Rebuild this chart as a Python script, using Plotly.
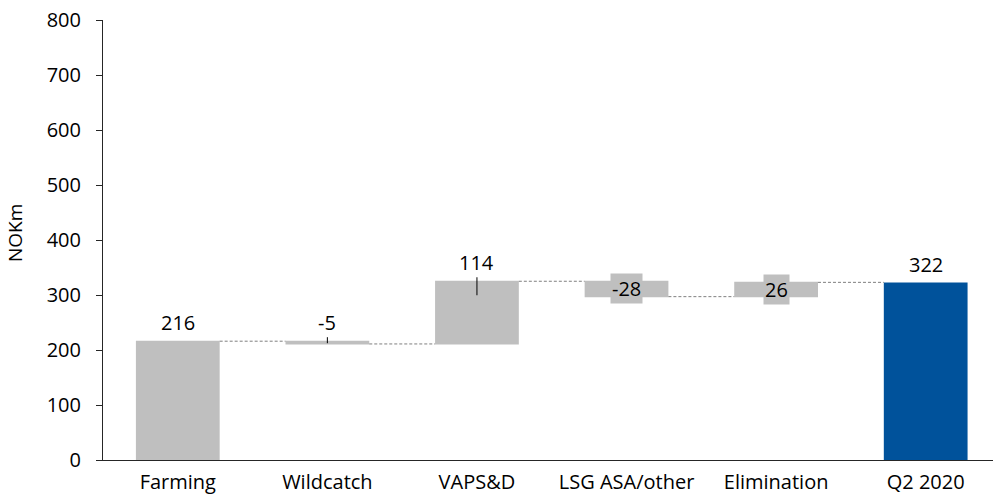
import plotly.graph_objects as go
import numpy as np

categories = ["Farming", "Wildcatch", "VAPS&D", "LSG ASA/other", "Elimination", "Q2 2020"]
values = [216, -5, 114, -28, 26, 322]
measures = ["relative", "relative", "relative", "relative", "relative", "absolute"]
label_texts = ["216", "-5", "114", "-28", "26", "322"]
y_ticks = [0, 100, 200, 300, 400, 500, 600, 700, 800]
y_title = "NOKm"

GRAY = "#BFBFBF"
BLUE = "#00529B"
FONT = "Open Sans"
TXT = "#000000"
FS = 20

# bar extents computed from data
ends = []
starts = []
run = 0.0
for v, m in zip(values, measures):
    if m == "absolute":
        starts.append(0.0)
        run = v
    else:
        starts.append(run)
        run += v
    ends.append(run)
starts = np.array(starts)
ends = np.array(ends)
tops = np.maximum(starts, ends)
mids = (starts + ends) / 2

fig = go.Figure()
fig.add_trace(go.Waterfall(
    x=categories,
    y=values,
    measure=measures,
    width=0.56,
    increasing=dict(marker=dict(color=GRAY, line=dict(width=0))),
    decreasing=dict(marker=dict(color=GRAY, line=dict(width=0))),
    totals=dict(marker=dict(color=BLUE, line=dict(width=0))),
    connector=dict(mode="between", line=dict(color="#7F7F7F", width=1, dash="3px,2px")),
    textinfo="none",
    hoverinfo="skip",
    showlegend=False,
))

annotations = []
shapes = []
for i, (c, t) in enumerate(zip(categories, label_texts)):
    if i in (3, 4):
        annotations.append(dict(x=c, y=mids[i], text=t, showarrow=False,
                                xref="x", yref="y", yanchor="middle",
                                font=dict(family=FONT, size=FS, color=TXT),
                                bgcolor=GRAY, borderpad=1))
    else:
        annotations.append(dict(x=c, y=tops[i], text=t, showarrow=False,
                                xref="x", yref="y", yanchor="bottom", yshift=3,
                                font=dict(family=FONT, size=FS, color=TXT)))
# y-axis title
annotations.append(dict(x=0, y=0.5, xref="paper", yref="paper", text=y_title,
                        textangle=-90, showarrow=False, xanchor="center", yanchor="middle",
                        xshift=-88, yshift=7,
                        font=dict(family=FONT, size=FS - 1, color=TXT)))
# leader lines for small labels
shapes.append(dict(type="line", xref="x", yref="y", x0=1, x1=1,
                   ysizemode="pixel", yanchor=tops[1], y0=-2, y1=4,
                   line=dict(color="#000000", width=1)))
shapes.append(dict(type="line", xref="x", yref="y", x0=2, x1=2,
                   ysizemode="pixel", yanchor=tops[2], y0=-14, y1=4,
                   line=dict(color="#000000", width=1)))

fig.update_layout(
    width=993, height=496,
    margin=dict(l=103, r=0, t=20, b=36, autoexpand=False),
    plot_bgcolor="white", paper_bgcolor="white",
    font=dict(family=FONT, size=FS, color=TXT),
    annotations=annotations,
    shapes=shapes,
    xaxis=dict(range=[-0.5, 5.45], showgrid=False, showline=True, linecolor="#262626",
               linewidth=1, ticks="", tickfont=dict(family=FONT, size=FS, color=TXT),
               ticklabelstandoff=4,
               zeroline=False, fixedrange=True, automargin=False),
    yaxis=dict(range=[0, 800], tickvals=y_ticks, showgrid=False, showline=True,
               linecolor="#262626", linewidth=1, ticks="outside", ticklen=6,
               tickcolor="#262626", tickfont=dict(family=FONT, size=FS, color=TXT),
               ticklabelstandoff=11, ticklabeloverflow="allow",
               zeroline=False, automargin=False,
               fixedrange=True),
)

fig.write_html("out.html", config={"displayModeBar": False},
               post_script="document.body.style.margin='0px';document.body.style.overflow='hidden';")
